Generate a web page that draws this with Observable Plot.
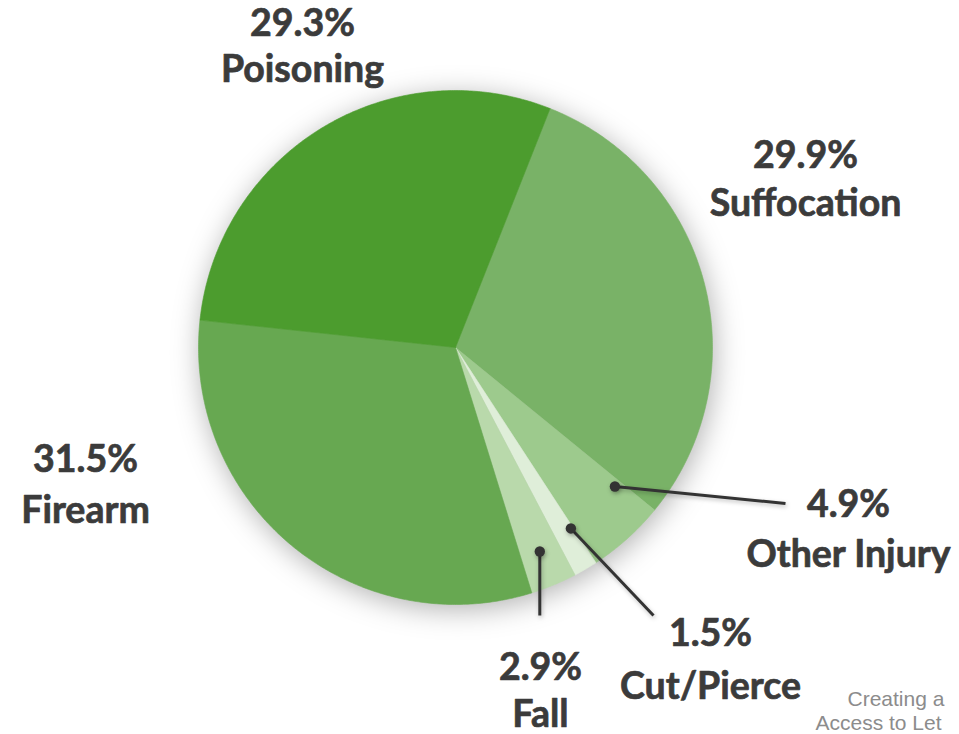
<!DOCTYPE html>
<html>
<head>
<meta charset="utf-8">
<script src="https://cdn.jsdelivr.net/npm/d3@7"></script>
<script src="https://cdn.jsdelivr.net/npm/@observablehq/plot@0.6"></script>
<style>
  html, body { margin: 0; padding: 0; background: #fff; }
  #chart { width: 959px; height: 734px; overflow: hidden; }
</style>
</head>
<body>
<div id="chart"></div>
<script>
// ---- data ----
const causes = ["Suffocation", "Other Injury", "Cut/Pierce", "Fall", "Firearm", "Poisoning"];
const shares = [29.9, 4.9, 1.5, 2.9, 31.5, 29.3];
const colors = ["#79b267", "#9dca8d", "#dfeed9", "#b9d9ab", "#67a851", "#4c9c2e"];

// ---- layout (pixel space) ----
const W = 959, H = 734;
const cx = 455, cy = 347, R = 257;
const startDeg = 21.6;
// label center x, value baseline, name baseline
const labelX     = [805, 848, 710, 540, 85, 302];
const valueBase  = [167, 516, 645, 679, 471, 35];
const nameBase   = [215, 566, 698, 726, 522, 81];
// leader: [fraction across slice, fraction of radius] for dot, and line end
const leaderDot = {"Other Injury": [0.105, 0.823], "Cut/Pierce": [0.11, 0.835], "Fall": [0.505, 0.859]};
const leaderEnd = {"Other Injury": [785, 503], "Cut/Pierce": [653, 615], "Fall": [null, 615]};
const captionLines = ["Creating a", "Access to Let"];
const captionX = [847, 815];
const captionBase = [705, 729];

// ---- build slices ----
const rad = d => d * Math.PI / 180;
const pie = d3.pie().sort(null).value(d => d.share)
  .startAngle(rad(startDeg)).endAngle(rad(startDeg) + 2 * Math.PI);
const arcs = pie(causes.map((c, i) => ({cause: c, share: shares[i]})));
const px = (a, r) => cx + r * Math.sin(a);
const py = (a, r) => cy - r * Math.cos(a);

const polys = [];
for (const a of arcs) {
  const c = a.data.cause;
  polys.push({cause: c, x: cx, y: cy});
  const n = Math.max(4, Math.ceil((a.endAngle - a.startAngle) / rad(0.5)));
  for (let k = 0; k <= n; k++) {
    const t = a.startAngle + (a.endAngle - a.startAngle) * k / n;
    polys.push({cause: c, x: px(t, R), y: py(t, R)});
  }
  polys.push({cause: c, x: cx, y: cy});
}

const labels = causes.map((c, i) => ({cause: c, value: shares[i], x: labelX[i], vy: valueBase[i], ny: nameBase[i]}));

const leaders = arcs.filter(a => leaderDot[a.data.cause]).map(a => {
  const [f, rf] = leaderDot[a.data.cause];
  const t = a.startAngle + (a.endAngle - a.startAngle) * f;
  const x1 = px(t, R * rf), y1 = py(t, R * rf);
  const [ex, ey] = leaderEnd[a.data.cause];
  return {cause: a.data.cause, x1, y1, x2: ex == null ? x1 : ex, y2: ey};
});

const captions = captionLines.map((t, i) => ({text: t, x: captionX[i], y: captionBase[i]}));

const labelFont = {lineAnchor: "bottom", textAnchor: "middle", fontSize: 37.5, fontWeight: 700,
  fontFamily: "Lato, 'Open Sans', sans-serif", fill: "#3b3b3b", stroke: "#3b3b3b", strokeWidth: 0.7};

const plot = Plot.plot({
  width: W, height: H,
  marginTop: 0, marginRight: 0, marginBottom: 0, marginLeft: 0,
  x: {domain: [0, W], range: [0, W], axis: null},
  y: {domain: [0, H], range: [0, H], axis: null},
  color: {type: "ordinal", domain: causes, range: colors},
  style: {background: "#fff", overflow: "hidden"},
  marks: [
    Plot.line(polys, {x: "x", y: "y", z: "cause", fill: "cause", stroke: "cause", strokeWidth: 0.6, curve: "linear"}),
    Plot.link(leaders, {x1: "x1", y1: "y1", x2: "x2", y2: "y2", stroke: "#333", strokeWidth: 3}),
    Plot.dot(leaders, {x: "x1", y: "y1", r: 5.2, fill: "#333", stroke: null}),
    Plot.text(labels, {x: "x", y: "vy", text: d => `${d.value.toFixed(1)}%`, ...labelFont}),
    Plot.text(labels, {x: "x", y: "ny", text: "cause", ...labelFont}),
    Plot.text(captions, {x: "x", y: "y", text: "text", lineAnchor: "bottom", textAnchor: "start",
      fontSize: 21, fontFamily: "'Liberation Sans', Arial, sans-serif", fill: "#8c8c8c"})
  ]
});

d3.select(plot).select('g[aria-label="line"]').style("filter", "drop-shadow(2px 5px 14px rgba(0,0,0,0.3))");
d3.select(plot).select('g[aria-label="dot"]').style("filter", "drop-shadow(1px 2px 2px rgba(0,0,0,0.3))");
d3.select(plot).select('g[aria-label="link"]').style("filter", "drop-shadow(1px 2px 2px rgba(0,0,0,0.25))");

document.getElementById("chart").appendChild(plot);
</script>
</body>
</html>
